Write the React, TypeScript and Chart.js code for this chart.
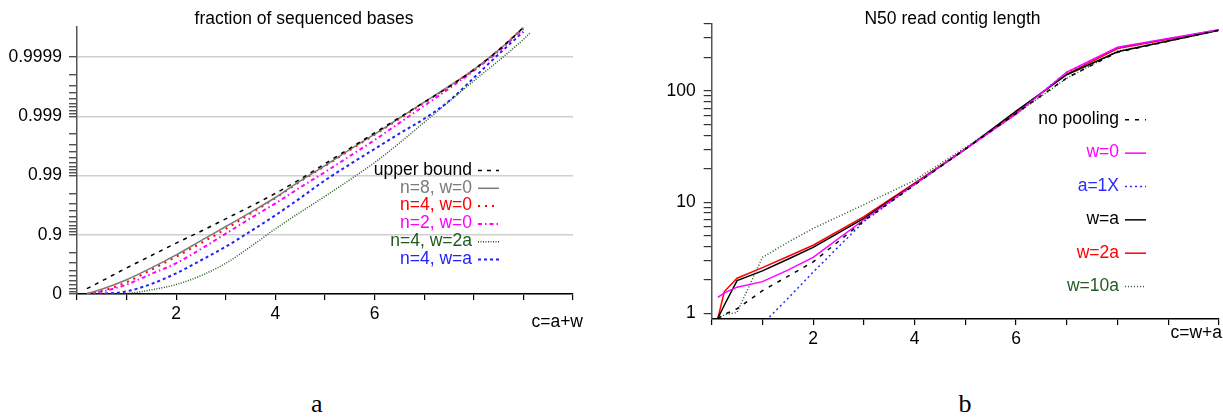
import React, { useEffect, useRef } from "react";
import { Chart, registerables } from "chart.js";

Chart.register(...registerables);

const FONT_FAMILY = '"Liberation Sans", Arial, Helvetica, sans-serif';
const FONT_SIZE = 17.5;

// ---------- chart a : fraction of sequenced bases ----------
// y values are "number of nines": -log10(1 - fraction)
const X_LEFT = [0.2, 0.5, 1, 1.5, 2, 2.5, 3, 3.5, 4, 4.5, 5, 5.5, 6, 6.5, 7, 7.5, 8, 8.5, 9, 9.15];
const UPPER_BOUND = [0.09, 0.22, 0.44, 0.65, 0.86, 1.06, 1.27, 1.48, 1.7, 1.94, 2.2, 2.46, 2.72, 2.98, 3.24, 3.5, 3.79, 4.12, 4.5, null];
const N8_W0 = [0.005, 0.08, 0.24, 0.44, 0.66, 0.9, 1.14, 1.38, 1.63, 1.91, 2.17, 2.44, 2.7, 2.97, 3.24, 3.51, 3.79, 4.12, 4.5, null];
const N4_W0 = [0.003, 0.05, 0.2, 0.41, 0.63, 0.86, 1.1, 1.36, 1.62, 1.9, 2.16, 2.43, 2.69, 2.96, 3.23, 3.5, 3.79, 4.12, 4.5, null];
const N2_W0 = [0, 0.04, 0.16, 0.34, 0.52, 0.76, 1.02, 1.28, 1.53, 1.8, 2.06, 2.33, 2.6, 2.89, 3.18, 3.47, 3.77, 4.1, 4.48, null];
const N4_W2A = [null, 0, 0.01, 0.07, 0.16, 0.31, 0.52, 0.8, 1.1, 1.38, 1.65, 1.93, 2.22, 2.55, 2.9, 3.25, 3.6, 3.94, 4.3, 4.42];
const N4_WA = [0, 0.005, 0.045, 0.17, 0.35, 0.57, 0.8, 1.06, 1.33, 1.62, 1.92, 2.19, 2.45, 2.71, 2.96, 3.26, 3.65, 4.05, 4.43, null];

const LEFT_MAJOR_VALUES = [0, 1, 2, 3, 4];
const LEFT_MAJOR_LABELS = ["0", "0.9", "0.99", "0.999", "0.9999"];
const LEFT_MINOR_FRACTIONS = [0.1, 0.2, 0.3, 0.4, 0.5, 0.6, 0.7, 0.8];
const LEFT_Y_MAX = 4.51;
const X_TICKS = [0, 1, 2, 3, 4, 5, 6, 7, 8, 9, 10];
const X_TICK_LABELS = [2, 4, 6];

// ---------- chart b : N50 read contig length ----------
const X_RIGHT = [0.12, 0.25, 0.5, 1, 1.5, 2, 3, 4, 5, 6, 7, 8, 10];
const NO_POOLING = [0.9, 0.98, 1.1, 1.6, 2.15, 2.9, 6.8, 14.3, 30, 63, 131, 223, 352];
const W_0 = [1.39, 1.53, 1.72, 1.93, 2.45, 3.19, 6.95, 14.5, 30, 62, 148, 247, 356];
const A_1X = [null, null, null, 0.8, 1.36, 2.35, 6.7, 14.4, 30, 63, 147, 244, 355];
const W_A = [0.9, 1.19, 1.97, 2.41, 3.07, 3.92, 7.15, 14.6, 30, 66, 140, 225, 352];
const W_2A = [0.9, 1.57, 2.07, 2.58, 3.25, 4.1, 7.4, 14.8, 30, 64, 142, 241, 354];
const W_10A = [0.9, 0.97, 1.02, 3.19, 4.35, 5.8, 9.5, 15.7, 31, 62, 130, 228, 350];

const RIGHT_Y_TICKS = [1, 2, 3, 4, 5, 6, 7, 8, 9, 10, 20, 30, 40, 50, 60, 70, 80, 90, 100, 200, 300, 400];
const RIGHT_Y_LABELS = [1, 10, 100];

const font = { family: FONT_FAMILY, size: FONT_SIZE };

function toPoints(xs: number[], ys: (number | null)[]) {
  const pts: { x: number; y: number }[] = [];
  xs.forEach((x, i) => {
    const y = ys[i];
    if (y !== null && y !== undefined) pts.push({ x, y });
  });
  return pts;
}

type Annot = {
  title: string;
  titleX: number;
  titleY: number;
  xTitle: string;
  xTitleX: number;
  xTitleY: number;
  legendX: number;
  legendY: number;
  legendStep: number;
};

function annotationPlugin(cfg: Annot) {
  return {
    id: "annotations",
    afterDraw(chart: any) {
      const ctx = chart.ctx as CanvasRenderingContext2D;
      ctx.save();
      ctx.font = `${FONT_SIZE}px ${FONT_FAMILY}`;
      ctx.textBaseline = "middle";
      ctx.fillStyle = "#000";
      ctx.textAlign = "center";
      ctx.fillText(cfg.title, cfg.titleX, cfg.titleY);
      ctx.textAlign = "right";
      ctx.fillText(cfg.xTitle, cfg.xTitleX, cfg.xTitleY);
      chart.data.datasets.forEach((ds: any, i: number) => {
        const y = cfg.legendY + i * cfg.legendStep;
        ctx.fillStyle = ds.borderColor;
        ctx.textAlign = "right";
        ctx.fillText(ds.label, cfg.legendX, y);
        ctx.strokeStyle = ds.borderColor;
        ctx.lineWidth = ds.borderWidth;
        ctx.setLineDash(ds.borderDash || []);
        ctx.beginPath();
        ctx.moveTo(cfg.legendX + 6, y + 0.5);
        ctx.lineTo(cfg.legendX + 27, y + 0.5);
        ctx.stroke();
      });
      ctx.restore();
    },
  };
}

function leftTicks(): number[] {
  const ticks: number[] = [];
  LEFT_MAJOR_VALUES.forEach((d, i) => {
    ticks.push(d);
    if (i === LEFT_MAJOR_VALUES.length - 1) return;
    LEFT_MINOR_FRACTIONS.forEach((f) => {
      ticks.push(d - Math.log10(1 - f));
    });
  });
  return ticks.sort((a, b) => a - b);
}

function LeftChart() {
  const ref = useRef<HTMLCanvasElement | null>(null);
  useEffect(() => {
    if (!ref.current) return;
    const series = [
      { label: "upper bound", values: UPPER_BOUND, color: "#000000", width: 1.5, dash: [4, 5] },
      { label: "n=8, w=0", values: N8_W0, color: "#7a7a7a", width: 1.5, dash: [] },
      { label: "n=4, w=0", values: N4_W0, color: "#ff0000", width: 2, dash: [2, 5] },
      { label: "n=2, w=0", values: N2_W0, color: "#ff00ff", width: 2, dash: [4, 3, 1.5, 3] },
      { label: "n=4, w=2a", values: N4_W2A, color: "#1f5a1f", width: 1.5, dash: [1, 1.5] },
      { label: "n=4, w=a", values: N4_WA, color: "#1f1fff", width: 2, dash: [3, 3] },
    ];
    const chart = new Chart(ref.current, {
      type: "line",
      data: {
        datasets: series.map((s) => ({
          label: s.label,
          data: toPoints(X_LEFT, s.values),
          borderColor: s.color,
          borderWidth: s.width,
          borderDash: s.dash,
          pointRadius: 0,
          fill: false,
          cubicInterpolationMode: "monotone",
        })),
      } as any,
      options: {
        animation: false,
        responsive: false,
        layout: { padding: { left: 0, top: 27, right: 37, bottom: 0 } },
        plugins: { legend: { display: false }, tooltip: { enabled: false }, title: { display: false } },
        scales: {
          x: {
            type: "linear",
            min: 0,
            max: 10,
            afterBuildTicks: (s: any) => {
              s.ticks = X_TICKS.map((v) => ({ value: v }));
            },
            ticks: {
              autoSkip: false,
              maxRotation: 0,
              padding: 4,
              color: "#000",
              font,
              callback: (v: any) => (X_TICK_LABELS.includes(Number(v)) ? String(v) : ""),
            },
            grid: { drawOnChartArea: false, drawTicks: true, tickLength: 6, tickColor: "#000", lineWidth: 1.2 },
            border: { display: true, color: "#000", width: 1.5 },
            afterFit: (s: any) => {
              s.height = 51;
            },
          },
          y: {
            type: "linear",
            min: 0,
            max: LEFT_Y_MAX,
            afterBuildTicks: (s: any) => {
              s.ticks = leftTicks().map((v) => ({ value: v }));
            },
            ticks: {
              autoSkip: false,
              padding: 7,
              color: "#000",
              font,
              callback: (v: any) => {
                const idx = LEFT_MAJOR_VALUES.findIndex((m) => Math.abs(m - Number(v)) < 1e-9);
                return idx >= 0 ? LEFT_MAJOR_LABELS[idx] : "";
              },
            },
            grid: {
              drawTicks: true,
              tickLength: 8,
              lineWidth: 1.5,
              tickWidth: 1.2,
              color: (c: any) =>
                LEFT_MAJOR_VALUES.some((m) => Math.abs(m - c.tick.value) < 1e-9) ? "#cfcfcf" : "rgba(0,0,0,0)",
              tickColor: "#333",
            } as any,
            border: { display: true, color: "#555", width: 1.5 },
            afterFit: (s: any) => {
              s.width = 77;
            },
          },
        },
      } as any,
      plugins: [
        annotationPlugin({
          title: "fraction of sequenced bases",
          titleX: 304,
          titleY: 19,
          xTitle: "c=a+w",
          xTitleX: 583,
          xTitleY: 322,
          legendX: 472,
          legendY: 170,
          legendStep: 17.8,
        }),
      ],
    });
    return () => chart.destroy();
  }, []);
  return <canvas ref={ref} width={610} height={345} style={{ position: "absolute", left: 0, top: 0 }} />;
}

function RightChart() {
  const ref = useRef<HTMLCanvasElement | null>(null);
  useEffect(() => {
    if (!ref.current) return;
    const series = [
      { label: "no pooling", values: NO_POOLING, color: "#000000", width: 1.5, dash: [4, 6] },
      { label: "w=0", values: W_0, color: "#ff00ff", width: 1.5, dash: [] },
      { label: "a=1X", values: A_1X, color: "#2a2aff", width: 1.5, dash: [2, 3] },
      { label: "w=a", values: W_A, color: "#000000", width: 1.5, dash: [] },
      { label: "w=2a", values: W_2A, color: "#ff0000", width: 1.5, dash: [] },
      { label: "w=10a", values: W_10A, color: "#245a24", width: 1.5, dash: [1, 2] },
    ];
    const chart = new Chart(ref.current, {
      type: "line",
      data: {
        datasets: series.map((s) => ({
          label: s.label,
          data: toPoints(X_RIGHT, s.values),
          borderColor: s.color,
          borderWidth: s.width,
          borderDash: s.dash,
          pointRadius: 0,
          fill: false,
          tension: 0,
        })),
      } as any,
      options: {
        animation: false,
        responsive: false,
        layout: { padding: { left: 0, top: 24, right: 2, bottom: 0 } },
        plugins: { legend: { display: false }, tooltip: { enabled: false }, title: { display: false } },
        scales: {
          x: {
            type: "linear",
            min: 0,
            max: 10,
            afterBuildTicks: (s: any) => {
              s.ticks = X_TICKS.map((v) => ({ value: v }));
            },
            ticks: {
              autoSkip: false,
              maxRotation: 0,
              padding: 4,
              color: "#000",
              font,
              callback: (v: any) => (X_TICK_LABELS.includes(Number(v)) ? String(v) : ""),
            },
            grid: { drawOnChartArea: false, drawTicks: true, tickLength: 6, tickColor: "#000", lineWidth: 1.2 },
            border: { display: true, color: "#000", width: 1.5 },
            afterFit: (s: any) => {
              s.height = 36;
            },
          },
          y: {
            type: "logarithmic",
            min: 0.89,
            max: 400,
            afterBuildTicks: (s: any) => {
              s.ticks = RIGHT_Y_TICKS.map((v) => ({ value: v }));
            },
            ticks: {
              autoSkip: false,
              padding: 8,
              color: "#000",
              font,
              callback: (v: any) => (RIGHT_Y_LABELS.includes(Number(v)) ? String(v) : ""),
            },
            grid: { drawOnChartArea: false, drawTicks: true, tickLength: 8, tickColor: "#333", lineWidth: 1.2 },
            border: { display: true, color: "#555", width: 1.5 },
            afterFit: (s: any) => {
              s.width = 81.7;
            },
          },
        },
      } as any,
      plugins: [
        annotationPlugin({
          title: "N50 read contig length",
          titleX: 322.5,
          titleY: 19,
          xTitle: "c=w+a",
          xTitleX: 592,
          xTitleY: 333,
          legendX: 489,
          legendY: 119.3,
          legendStep: 33.35,
        }),
      ],
    });
    return () => chart.destroy();
  }, []);
  return <canvas ref={ref} width={593} height={355} style={{ position: "absolute", left: 630, top: 0 }} />;
}

const captionStyle: React.CSSProperties = {
  position: "absolute",
  top: 391,
  width: 100,
  textAlign: "center",
  fontFamily: '"Liberation Serif", "DejaVu Serif", serif',
  fontSize: 26,
  lineHeight: "26px",
  color: "#000",
};

export default function App() {
  return (
    <div style={{ position: "absolute", left: 0, top: 0, width: 1223, height: 417, background: "#fff", overflow: "hidden" }}>
      <LeftChart />
      <RightChart />
      <div style={{ ...captionStyle, left: 316.7 - 50 }}>a</div>
      <div style={{ ...captionStyle, left: 965 - 50 }}>b</div>
    </div>
  );
}
